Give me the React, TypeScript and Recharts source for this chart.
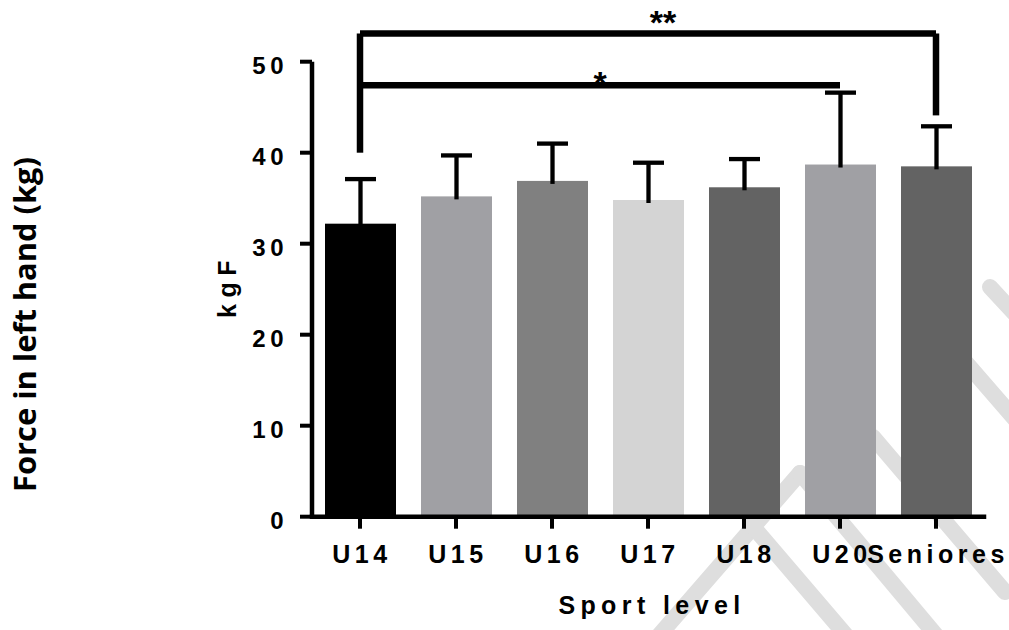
import React from "react";
import { BarChart, Bar, XAxis, YAxis, ReferenceLine } from "recharts";

const categories = ["U14", "U15", "U16", "U17", "U18", "U20", "Seniores"];
const means = [32.2, 35.2, 36.9, 34.8, 36.2, 38.7, 38.5];
const sds = [4.9, 4.5, 4.1, 4.1, 3.1, 7.9, 4.4];
const colors = ["#000000", "#a0a0a4", "#808080", "#d4d4d4", "#636363", "#a0a0a4", "#636363"];
const yTicks = [0, 10, 20, 30, 40, 50];

// significance brackets (y in kgF)
const farBracketY = 53.1;
const farLeftBottom = 40.0;
const farRightBottom = 44.1;
const nearBracketY = 47.4;

const data = categories.map((name, i) => ({ name, mean: means[i], sd: sds[i] }));

const FONT = "'Liberation Sans', Arial, sans-serif";

// bar plus one-sided (upper) SD whisker
const BarWithError = (props: any) => {
  const { x, y, width, height, payload, index } = props;
  const errPx = payload.mean > 0 ? (height * payload.sd) / payload.mean : 0;
  const cx = x + width / 2;
  const top = y - errPx;
  return (
    <g>
      <rect x={x} y={y} width={width} height={height} fill={colors[index]} />
      <line x1={cx} x2={cx} y1={y + 3} y2={top} stroke="#000" strokeWidth={4.3} />
      <line x1={cx - 15.5} x2={cx + 15.5} y1={top} y2={top} stroke="#000" strokeWidth={4.3} />
    </g>
  );
};

const XTick = (props: any) => {
  const { x, y, payload } = props;
  return (
    <text x={x + 2} y={y} dy={32} textAnchor="middle" fontFamily={FONT} fontWeight="bold"
      fontSize={25} letterSpacing={4.5} fill="#000">
      {payload.value}
    </text>
  );
};

const YTick = (props: any) => {
  const { x, y, payload } = props;
  return (
    <text x={x - 10} y={y} dy={12} textAnchor="end" fontFamily={FONT} fontWeight="bold"
      fontSize={24} letterSpacing={4.5} fill="#000">
      {payload.value}
    </text>
  );
};

// star label placed over a bracket line
const starLabel = (text: string, dx: number, dy: number) => (props: any) => {
  const { viewBox } = props;
  const cx = viewBox.x + viewBox.width / 2 + dx;
  return (
    <text x={cx} y={viewBox.y + dy} textAnchor="middle" fontFamily={FONT} fontWeight="bold"
      fontSize={34} fill="#000">
      {text}
    </text>
  );
};

// watermark stripes in the background
const Watermark = () => (
  <svg width={1009} height={630} style={{ position: "absolute", left: 0, top: 0 }}>
    <g stroke="#dedede" strokeWidth={16} strokeLinecap="round" fill="none">
      <line x1={655} y1={640} x2={800} y2={473} />
      <line x1={800} y1={473} x2={940} y2={640} />
      <line x1={750} y1={523} x2={850} y2={640} />
      <line x1={873} y1={437} x2={1005} y2={592} />
      <line x1={990} y1={287} x2={1030} y2={330} />
      <line x1={962} y1={358} x2={1020} y2={425} />
    </g>
    <text transform="translate(36, 324.5) rotate(-90)" textAnchor="middle" fontFamily="'Open Sans', sans-serif"
      fontWeight="bold" fontSize={31} textLength={335} lengthAdjust="spacingAndGlyphs" fill="#000">
      Force in left hand (kg)
    </text>
    <text transform="translate(236, 286) rotate(-90)" textAnchor="middle" fontFamily={FONT}
      fontWeight="bold" fontSize={25} letterSpacing={6.5} fill="#000">
      kgF
    </text>
    <text x={652} y={614} textAnchor="middle" fontFamily={FONT} fontWeight="bold"
      fontSize={25} letterSpacing={5.4} fill="#000">
      Sport level
    </text>
  </svg>
);

const App = () => {
  return (
    <div style={{ position: "fixed", left: 0, top: 0, width: 1009, height: 630, overflow: "hidden", background: "#fff" }}>
      <Watermark />
      <div style={{ position: "absolute", left: 0, top: 0 }}>
        <BarChart width={1009} height={630} data={data} barSize={71}
          margin={{ top: 61.7, right: 25, left: 252, bottom: 83.3 }}>
          <XAxis dataKey="name" height={30} interval={0} tickSize={12}
            axisLine={{ stroke: "#000", strokeWidth: 4.5, strokeLinecap: "square" }}
            tickLine={{ stroke: "#000", strokeWidth: 4 }} tick={<XTick />} />
          <YAxis width={60} domain={[0, 50]} ticks={yTicks} tickSize={12} interval={0}
            axisLine={{ stroke: "#000", strokeWidth: 4.5 }}
            tickLine={{ stroke: "#000", strokeWidth: 4 }} tick={<YTick />} />
          <Bar dataKey="mean" isAnimationActive={false} shape={<BarWithError />} />
          <ReferenceLine ifOverflow="visible" stroke="#000" strokeWidth={6.5}
            segment={[{ x: "U14", y: farLeftBottom }, { x: "U14", y: farBracketY }]} />
          <ReferenceLine ifOverflow="visible" stroke="#000" strokeWidth={6.5}
            segment={[{ x: "U14", y: farBracketY }, { x: "Seniores", y: farBracketY }]}
            label={starLabel("**", 15, 1)} />
          <ReferenceLine ifOverflow="visible" stroke="#000" strokeWidth={6.5}
            segment={[{ x: "Seniores", y: farBracketY }, { x: "Seniores", y: farRightBottom }]} />
          <ReferenceLine ifOverflow="visible" stroke="#000" strokeWidth={6.5}
            segment={[{ x: "U14", y: nearBracketY }, { x: "U20", y: nearBracketY }]}
            label={starLabel("*", 0, 10)} />
        </BarChart>
      </div>
    </div>
  );
};

export default App;
